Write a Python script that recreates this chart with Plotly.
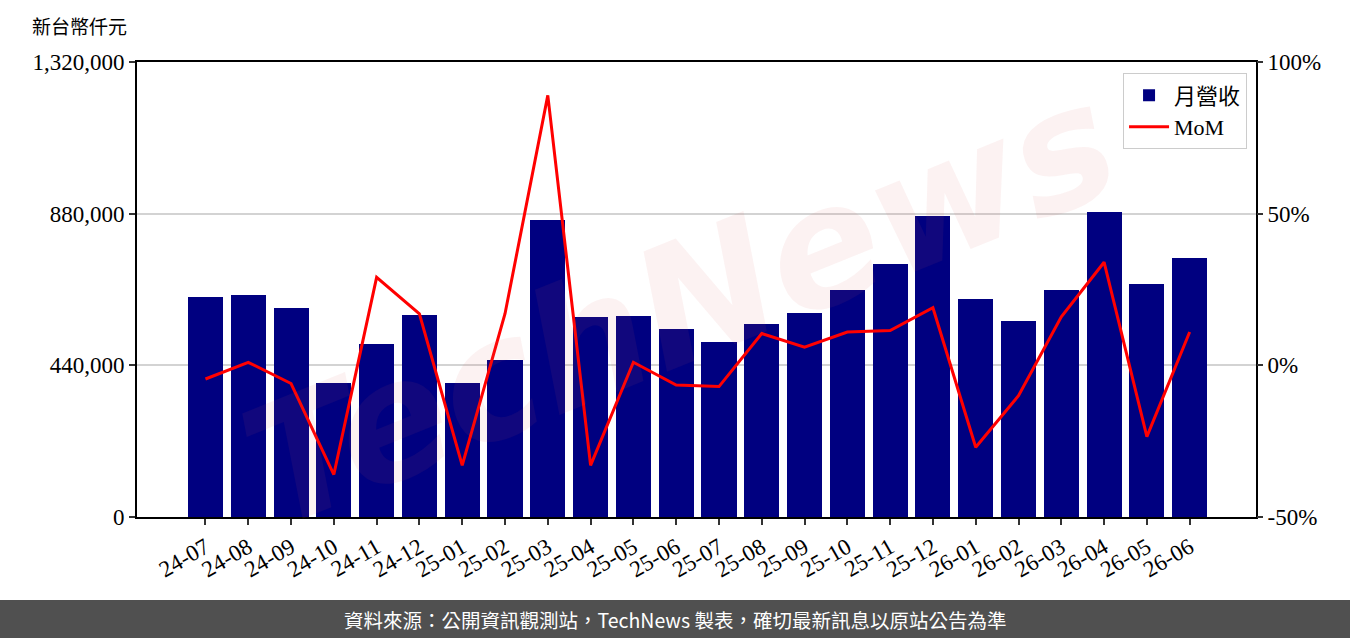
import plotly.graph_objects as go

months = ["24-07", "24-08", "24-09", "24-10", "24-11", "24-12",
          "25-01", "25-02", "25-03", "25-04", "25-05", "25-06",
          "25-07", "25-08", "25-09", "25-10", "25-11", "25-12",
          "26-01", "26-02", "26-03", "26-04", "26-05", "26-06"]
revenue = [638000, 644000, 606000, 389000, 502000, 586000,
           389000, 455000, 862000, 580000, 583000, 545000,
           508000, 560000, 592000, 658000, 734000, 873000,
           632000, 569000, 658000, 885000, 676000, 751000]
mom = [-4.5, 1.0, -6.0, -36.0, 29.0, 17.0,
       -33.0, 17.0, 89.0, -33.0, 1.0, -6.5,
       -7.0, 10.5, 6.0, 11.0, 11.5, 19.0,
       -27.0, -10.0, 16.0, 34.0, -23.5, 11.0]
left_ticks = [0, 440000, 880000, 1320000]
right_ticks = [-50, 0, 50, 100]
right_labels = ["-50%", "0%", "50%", "100%"]

FONT = "Liberation Serif, Noto Sans CJK TC, serif"

L, R, T, B = 137, 94, 62, 121
W, H = 1350, 638
pw, ph = W - L - R, H - T - B

def px_x(x):
    return (x - L) / pw

def px_y(y):
    return (H - B - y) / ph

fig = go.Figure()
fig.add_trace(go.Bar(x=list(range(len(months))), y=revenue, name="月營收",
                     marker=dict(color="#000080", line=dict(width=0)),
                     width=0.82, yaxis="y"))
fig.add_trace(go.Scatter(x=list(range(len(months))), y=mom, name="MoM",
                         mode="lines", line=dict(color="#ff0000", width=3),
                         yaxis="y2"))

fig.update_layout(
    width=W, height=H,
    margin=dict(l=L, r=R, t=T, b=B),
    paper_bgcolor="white", plot_bgcolor="white",
    font=dict(family=FONT, size=22, color="black"),
    showlegend=True,
    legend=dict(x=0.992, y=0.975, xanchor="right", yanchor="top",
                bgcolor="rgba(255,255,255,0.8)", bordercolor="#cccccc",
                borderwidth=1, font=dict(size=22, family=FONT),
                itemwidth=40),
    bargap=0,
    xaxis=dict(range=[-1.6, 24.55], tickvals=list(range(len(months))),
               ticktext=months, tickangle=-30, showline=True,
               linecolor="black", linewidth=2, mirror=True,
               ticks="outside", ticklen=6, tickwidth=2, tickcolor="#333",
               showgrid=False, zeroline=False,
               tickfont=dict(size=23, family=FONT)),
    yaxis=dict(range=[0, 1320000], tickvals=left_ticks,
               tickformat=",", showline=True, linecolor="black",
               linewidth=2, mirror=True, ticks="outside", ticklen=6,
               tickwidth=2, tickcolor="#333", showgrid=True,
               gridcolor="#d3d3d3", gridwidth=1.5, zeroline=False,
               tickfont=dict(size=23, family=FONT)),
    yaxis2=dict(range=[-50, 100], tickvals=right_ticks, ticktext=right_labels,
                overlaying="y", side="right", showline=False,
                ticks="outside", ticklen=6, tickwidth=2, tickcolor="#333",
                showgrid=False, zeroline=False,
                tickfont=dict(size=23, family=FONT)),
)

# watermark
fig.add_annotation(text="<i><b>TechNews</b></i>", xref="paper", yref="paper",
                   x=px_x(680), y=px_y(305), showarrow=False,
                   textangle=-22, font=dict(size=165, color="rgba(215,90,90,0.08)",
                                            family="DejaVu Sans"))

# unit label
fig.add_annotation(text="新台幣仟元", xref="paper", yref="paper",
                   x=px_x(30), y=px_y(27), xanchor="left", yanchor="middle",
                   showarrow=False, font=dict(size=19, family=FONT))

# footer band
fig.add_shape(type="rect", xref="paper", yref="paper",
              x0=px_x(0), x1=px_x(W), y0=px_y(600), y1=px_y(H + 2),
              fillcolor="#505050", line=dict(width=0), layer="below")
fig.add_annotation(text="資料來源：公開資訊觀測站，TechNews 製表，確切最新訊息以原站公告為準",
                   xref="paper", yref="paper", x=px_x(675), y=px_y(619),
                   xanchor="center", yanchor="middle", showarrow=False,
                   font=dict(size=19.5, color="white", family="Noto Sans CJK TC"))

fig.write_html("out.html")
